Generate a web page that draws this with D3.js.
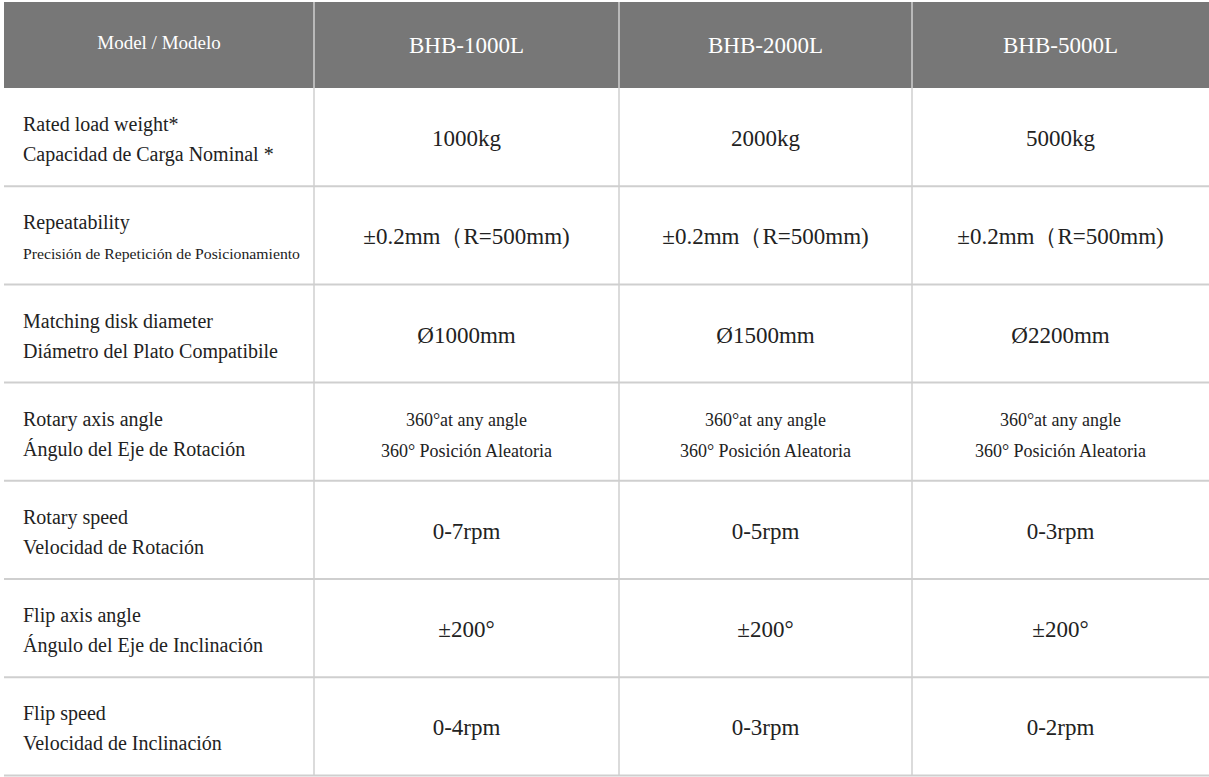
<!DOCTYPE html>
<html>
<head>
<meta charset="utf-8">
<script src="https://cdn.jsdelivr.net/npm/d3@7"></script>
<style>
  body { margin: 0; background: #fff; }
  text { font-family: "Liberation Serif", serif; }
</style>
</head>
<body>
<div id="table-chart"></div>
<script>
var models = ["BHB-1000L", "BHB-2000L", "BHB-5000L"];
var headerLabel = "Model / Modelo";

var rowLabels = [
    ["Rated load weight*", "Capacidad de Carga Nominal *"],
    ["Repeatability", "Precisión de Repetición de Posicionamiento"],
    ["Matching disk diameter", "Diámetro del Plato Compatibile"],
    ["Rotary axis angle", "Ángulo del Eje de Rotación"],
    ["Rotary speed", "Velocidad de Rotación"],
    ["Flip axis angle", "Ángulo del Eje de Inclinación"],
    ["Flip speed", "Velocidad de Inclinación"]
];

var cellValues = [
    ["1000kg", "2000kg", "5000kg"],
    ["±0.2mm（R=500mm)", "±0.2mm（R=500mm)", "±0.2mm（R=500mm)"],
    ["Ø1000mm", "Ø1500mm", "Ø2200mm"],
    [["360°at any angle", "360° Posición Aleatoria"], ["360°at any angle", "360° Posición Aleatoria"], ["360°at any angle", "360° Posición Aleatoria"]],
    ["0-7rpm", "0-5rpm", "0-3rpm"],
    ["±200°", "±200°", "±200°"],
    ["0-4rpm", "0-3rpm", "0-2rpm"]
];

var width = 1209, height = 777;
var tLeft = 4, tRight = 1209, tTop = 2, headerH = 86, rowH = 98.2;
var colEdges = [tLeft, 314, 619, 912, tRight];

var svg = d3.select("#table-chart")
    .append("svg")
        .attr("width", width)
        .attr("height", height);

// header band
svg.append("rect")
    .attr("x", tLeft).attr("y", tTop)
    .attr("width", tRight - tLeft).attr("height", headerH)
    .attr("fill", "#777777");

var rowTop = function(i) { return tTop + headerH + i * rowH; };
var colMid = function(j) { return (colEdges[j] + colEdges[j + 1]) / 2; };
var tBottom = rowTop(rowLabels.length);

// grid lines
rowLabels.forEach(function(r, i) {
    svg.append("line")
        .attr("x1", tLeft).attr("x2", tRight)
        .attr("y1", rowTop(i + 1)).attr("y2", rowTop(i + 1))
        .attr("stroke", "#cfcfcf").attr("stroke-width", 2);
});
colEdges.slice(1, 4).forEach(function(x) {
    svg.append("line")
        .attr("x1", x).attr("x2", x)
        .attr("y1", tTop).attr("y2", tBottom)
        .attr("stroke", "#cfcfcf").attr("stroke-width", 1.5);
});

// header text
svg.append("text")
    .attr("x", colMid(0)).attr("y", tTop + headerH / 2 + 4)
    .attr("text-anchor", "middle")
    .attr("fill", "#fff").attr("font-size", 19)
    .text(headerLabel);
models.forEach(function(m, j) {
    svg.append("text")
        .attr("x", colMid(j + 1)).attr("y", tTop + headerH / 2 + 8)
        .attr("text-anchor", "middle")
        .attr("fill", "#fff").attr("font-size", 23)
        .text(m);
});

// row labels
rowLabels.forEach(function(lines, i) {
    var cy = rowTop(i) + rowH / 2;
    svg.append("text")
        .attr("x", 23).attr("y", cy - 6)
        .attr("fill", "#222").attr("font-size", 20)
        .text(lines[0]);
    var t = svg.append("text")
        .attr("x", 23).attr("y", cy + 24)
        .attr("fill", "#222").attr("font-size", i === 1 ? 14 : 20)
        .text(lines[1]);
    if (i === 1) t.attr("textLength", 277).attr("lengthAdjust", "spacingAndGlyphs");
});

// values
cellValues.forEach(function(row, i) {
    var cy = rowTop(i) + rowH / 2;
    row.forEach(function(v, j) {
        if (Array.isArray(v)) {
            v.forEach(function(line, k) {
                svg.append("text")
                    .attr("x", colMid(j + 1)).attr("y", cy - 6 + k * 31)
                    .attr("text-anchor", "middle")
                    .attr("fill", "#222").attr("font-size", 18)
                    .text(line);
            });
        } else {
            svg.append("text")
                .attr("x", colMid(j + 1)).attr("y", cy + 9)
                .attr("text-anchor", "middle")
                .attr("fill", "#222").attr("font-size", 23)
                .text(v);
        }
    });
});
</script>
</body>
</html>
